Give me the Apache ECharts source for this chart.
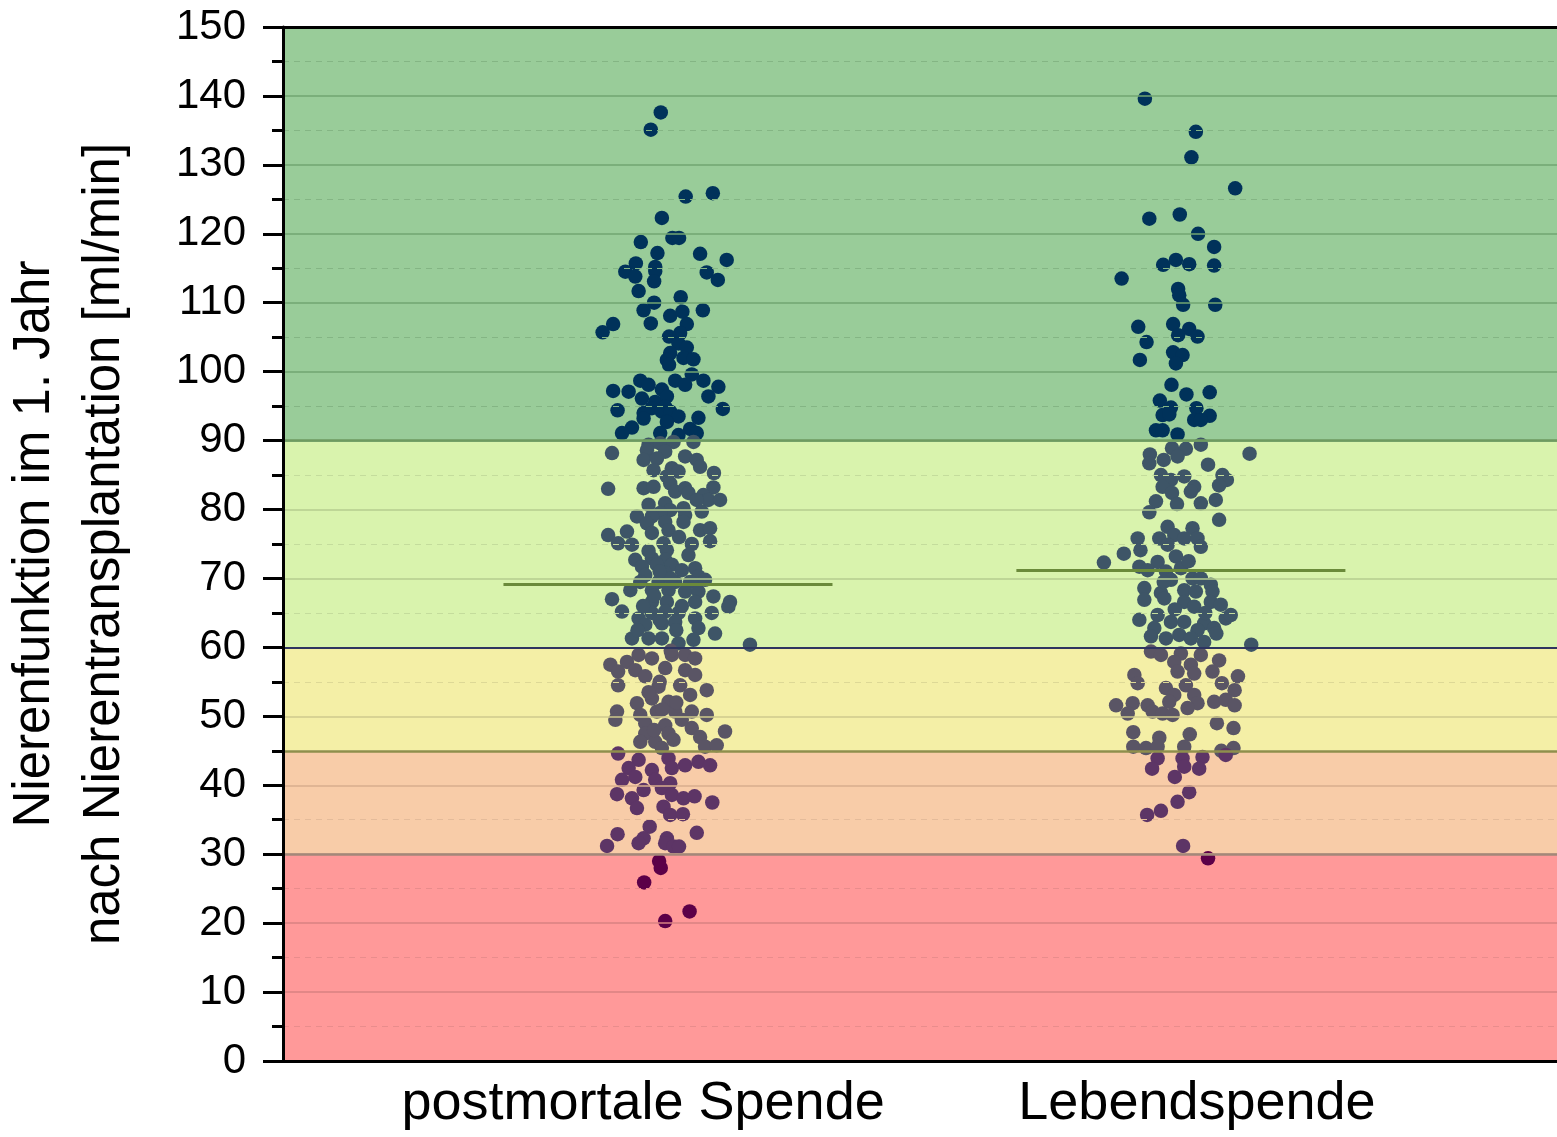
<!DOCTYPE html>
<html>
<head>
<meta charset="utf-8">
<script src="https://cdn.jsdelivr.net/npm/echarts@6/dist/echarts.min.js"></script>
<style>
  html, body { margin: 0; padding: 0; background: #ffffff; }
  #chart { width: 1557px; height: 1137px; }
</style>
</head>
<body>
<div id="chart"></div>
<script>
// Kidney function (eGFR, ml/min) one year after transplantation, by donor type.

const categories = ['postmortale Spende', 'Lebendspende'];
const categoryPositions = [1, 2];

// postmortal donation: horizontal jitter (% of category spacing) and value
const postmortalJitter = [
  3.2, 1.4, 7.7, 12.6, 3.4, 5.3, 6.5, -0.4, 2.6, 10.3, 15.1, -1.3, 2.2, -3.2, -1.4, 2.2, 2.0, 11.5, 13.5, -0.8,
  6.8, 2.0, 0.1, 4.9, 7.1, 10.8, 1.4, 7.9, -5.4, -7.3, 6.7, 4.7, 6.4, 7.9, 4.9, 4.3, 7.3, 9.1, 4.7, 8.8,
  -0.5, 1.0, 5.8, 7.6, 10.9, -5.4, -2.6, 3.4, 13.6, -0.2, 11.8, 2.2, 4.3, 1.6, 4.0, -4.6, 14.4, 0.1, 3.4, 4.9,
  6.4, 10.0, 0.1, 4.3, -2.0, -3.8, 3.1, 8.5, 9.7, 6.4,
  9.1, 1.0, 3.1, 5.5, -5.6, 0.7, 4.0, 7.6, 9.7, 0.1, 2.5, 10.3, 1.9, 5.2, 6.4, 12.8, 4.3, 4.9, -6.3, 0.1,
  1.9, 5.8, 7.6, 8.2, 12.7, 10.9, 11.8, 13.9, 9.7, 1.0, 4.0, 4.9, 7.3, 3.1, 10.6, -1.1, 1.6, 7.6, 0.7, 4.0,
  7.3, 4.6, -2.9, -6.3, 1.6, 10.3, 12.1, 12.1, -4.5, -2.0, 3.7, 8.8, 4.3, 8.2, -1.4, 1.6, 4.0, -0.2, 2.5, 5.2,
  9.4, 7.0, 0.4, 4.0, 10.0, 11.2, -0.5, 2.8, 5.8, 8.5, -2.3, 1.6, 4.6, 7.6, 10.0, 12.7, -5.6, 1.6, 4.3, 9.4,
  15.7, -3.8, -0.8, 1.6, 4.0, 6.4, 9.4, 12.4, 15.4, 0.4, 3.4, 5.8, 10.0, 13.0, -2.0, 1.0, 3.4, 9.1, 19.3, 6.4,
  2.0, 5.0, 3.0, 6.0, 1.0, 6.5, 0.0, 7.0, -1.0, 3.0,
  -5.9, -2.9, -0.8, 1.6, 5.2, 7.6, 9.4, -4.5, -1.4, 0.4, 4.0, 7.6, 9.4, -4.5, 2.8, 6.7, 11.5, 8.5, -1.1, 1.6,
  4.6, -4.7, -0.5, 2.5, 5.8, 8.8, 11.5, -5.0, 0.4, 4.0, 8.8, 14.8, 0.4, 4.6, 10.3, -0.5, 2.2, 5.5, 11.2, 13.3,
  3.4, 3.0, 6.0, 2.0, 7.0, 1.0, 5.0, 3.5,
  -4.5, -0.8, 4.6, 7.6, 10.0, 12.1, -2.6, 1.6, 5.2, -3.8, -1.4, 2.2, 4.9, -4.7, -2.0, 0.1, 3.4, 5.2, 7.3, 9.3,
  12.5, -1.1, 3.7, 4.9, 7.2, 1.2, -4.6, 9.7, 0.1, 4.3, -6.5, -0.8, 4.0, 5.5, 6.5,
  2.9, 3.2, 0.2, 8.4, 4.0
];
const postmortalValues = [
  137.6, 135.1, 125.4, 125.9, 122.3, 119.4, 119.4, 118.8, 117.2, 117.1, 116.2, 115.7, 115.2, 114.5, 113.8, 114.6, 113.1, 114.4, 113.3, 111.7,
  110.8, 110.0, 108.9, 108.1, 108.7, 108.9, 107.0, 106.9, 106.9, 105.7, 105.6, 105.1, 104.1, 103.5, 102.7, 101.7, 102.0, 101.8, 101.0, 99.6,
  98.7, 98.1, 98.7, 98.1, 98.7, 97.2, 97.1, 97.4, 97.8, 96.1, 96.4, 95.6, 96.4, 94.7, 94.9, 94.4, 94.6, 94.0, 94.2, 94.2,
  93.5, 93.3, 93.2, 92.7, 91.9, 91.1, 91.1, 91.7, 91.1, 90.8,
  89.8, 89.4, 89.6, 89.8, 88.2, 88.6, 88.4, 87.7, 87.2, 87.2, 87.4, 86.2, 85.7, 86.0, 85.5, 85.3, 84.8, 83.8, 83.0, 83.1,
  83.3, 82.6, 83.1, 82.4, 83.2, 82.1, 81.4, 81.4, 81.4, 80.7, 80.9, 79.9, 80.2, 79.5, 79.7, 79.0, 79.0, 79.2, 78.0, 78.2,
  78.2, 77.0, 76.8, 76.3, 76.6, 77.0, 77.3, 75.4, 75.1, 74.9, 75.1, 75.0, 74.1, 73.4, 72.7, 72.9, 72.7, 71.7, 72.0, 72.0,
  71.5, 71.2, 70.5, 70.8, 70.3, 69.8, 69.5, 69.5, 69.5, 69.5, 68.3, 68.3, 68.3, 68.1, 68.1, 67.4, 67.0, 66.6, 66.6, 66.6,
  66.6, 65.2, 64.2, 65.0, 65.2, 65.0, 64.2, 65.0, 65.9, 63.3, 63.5, 63.7, 62.8, 62.0, 61.3, 61.3, 61.3, 61.1, 60.4, 60.6,
  67.5, 70.0, 64.0, 62.5, 74.0, 76.0, 66.0, 66.0, 62.5, 71.0,
  57.5, 57.9, 58.9, 58.4, 58.9, 58.9, 58.4, 56.5, 56.7, 55.8, 57.0, 56.7, 56.0, 54.5, 54.3, 54.5, 53.8, 53.1, 51.9, 52.6,
  52.1, 50.7, 50.2, 50.7, 50.7, 50.7, 50.2, 49.5, 49.0, 48.7, 48.3, 47.8, 47.5, 47.5, 47.0, 46.3, 46.3, 46.6, 45.6, 45.8,
  45.4, 55.0, 52.0, 48.0, 49.5, 53.5, 59.5, 51.0,
  44.6, 43.7, 43.9, 42.9, 43.4, 42.9, 42.5, 42.2, 42.5, 40.8, 41.2, 40.8, 40.3, 38.7, 38.1, 39.3, 39.6, 38.6, 38.1, 38.4,
  37.5, 36.7, 36.9, 35.7, 35.8, 34.0, 32.9, 33.1, 32.3, 32.3, 31.2, 31.6, 31.6, 31.1, 31.1,
  29.0, 28.0, 25.9, 21.7, 20.3
];

// living donation: horizontal jitter (% of category spacing) and value
const lebendJitter = [
  -9.4, -0.2, -1.0, 6.9, -8.6, -3.1, 0.2, 3.1, -3.8, -6.1, -1.4, 3.1, -13.6, -3.4, -3.2, -2.5, 3.3, -10.6, -4.3, -1.4,
  -3.4, 0.1, -9.1, -4.3, -2.6, -3.8, -10.3, -4.6, -1.9, 2.3, -6.7, -4.7, -0.1, 2.3, -6.2, -5.0, -0.5, 0.7, -7.4, -6.2,
  -3.5,
  0.7, -4.5, -2.0, 9.5, -8.5, -3.5, -6.0, -8.6, 2.0, -6.5, -2.3, 4.6, 5.4, -4.7, -6.2, -0.5, 4.0, -4.5, -1.1, -7.4,
  3.4, -3.6, 0.7, -8.6, 4.0, -5.3, -0.8, -10.7, -6.8, -4.1, -2.3, 0.1, -5.3, 0.7, -13.2, -10.2, -16.8, -3.8, -7.1, -10.4,
  -8.9, -5.6, -2.9, -0.8, 0.7, -4.7, 2.5, -9.5, -6.5, -2.3, -0.2, 2.8, -9.5, -5.9, -2.3, -0.5, 2.5, 4.3, -10.4, -7.1,
  -4.7, -2.3, 1.3, 5.2, 6.1, -7.7, 0.1, 3.1, -8.3, -5.6, -3.2, -1.1, 1.3, 9.8, -4.0, -1.5, 1.5, -6.0, 3.5,
  -8.3, -6.5, -2.9, 0.7, -4.1, -1.1, 4.0, -3.5, -0.5, 2.8, -11.3, 7.4, -10.7, 4.5, -5.6, -2.0, 6.8, -4.1, -0.5, -14.6,
  -11.6, -8.9, -5.0, 0.1, 3.1, 5.2, 6.8, -12.5, -8.0, -6.2, -4.4, -1.7, 3.6, 6.6, -11.5, -6.8, -1.3, -11.5, -9.2, -2.3,
  4.4, 6.6, -7.1,
  -7.1, -2.6, 1.0, 5.2, -8.1, -2.3, 0.4, -4.0, -1.4, -3.5, -6.5, -9.0, -2.5,
  2.0
];
const lebendValues = [
  139.6, 134.8, 131.1, 126.6, 122.2, 122.8, 120.0, 118.1, 116.2, 115.5, 115.6, 115.4, 113.5, 112.0, 111.1, 109.7, 109.7, 106.5, 106.9, 106.2,
  105.3, 105.1, 104.3, 102.8, 102.4, 101.2, 101.7, 98.1, 96.7, 97.0, 95.8, 94.8, 94.7, 93.6, 93.7, 93.8, 93.0, 93.0, 91.5, 91.5,
  90.9,
  89.4, 88.9, 88.8, 88.1, 88.0, 87.7, 87.2, 86.7, 86.5, 85.0, 84.8, 85.0, 84.3, 84.3, 83.3, 83.3, 83.5, 82.4, 82.6, 81.2,
  81.4, 80.8, 80.9, 79.6, 78.5, 77.5, 77.3, 75.8, 75.8, 76.3, 75.8, 75.8, 74.9, 74.6, 73.6, 74.1, 72.3, 73.2, 72.4, 71.7,
  71.2, 71.0, 71.5, 70.0, 70.0, 69.8, 69.1, 68.6, 67.9, 68.3, 68.1, 68.1, 66.9, 67.1, 66.6, 65.9, 66.6, 66.2, 64.0, 64.7,
  63.7, 63.7, 63.5, 64.2, 64.7, 62.8, 62.5, 62.8, 61.6, 61.3, 61.8, 61.3, 60.8, 60.4, 65.5, 72.5, 65.0, 69.5, 62.0,
  59.4, 58.9, 59.1, 58.9, 57.9, 57.5, 58.1, 56.5, 56.2, 56.5, 56.0, 55.8, 54.8, 54.8, 54.1, 54.5, 53.8, 53.1, 53.1, 51.6,
  51.9, 51.6, 52.1, 51.9, 52.1, 52.4, 51.6, 50.4, 50.7, 50.4, 50.2, 51.2, 49.0, 48.3, 47.7, 46.9, 47.4, 45.6, 45.4, 45.6,
  45.0, 45.4, 45.6,
  43.9, 43.9, 44.1, 44.4, 42.4, 42.7, 42.4, 41.2, 39.0, 37.6, 36.3, 35.7, 31.2,
  29.4
];

// group means (horizontal lines)
const groupMeans = [69.1, 71.2];
const meanLineCenters = [1.045, 1.971];

// kidney-function stages shown as coloured bands
const bandLimits = [0, 30, 45, 60, 90, 150];
const bandFill = ['#ff9999', '#f8cca8', '#f4efa6', '#d9f3ad', '#99cc99'];
const bandGridSolid = ['#d98282', '#d8ae8e', '#cfca8c', '#b5cc8f', '#72a672'];
const bandGridDash = ['#e98c8c', '#e4bb9a', '#ddd896', '#c4dc9c', '#84b584'];
const bandDotColor = ['#5c0048', '#5d3566', '#5a5565', '#3e5567', '#00325a'];
const boundaryColor = { 30: '#a3887a', 45: '#8f8f4c', 60: '#2e3560', 90: '#6e9a60' };

const yTicks = { min: 0, max: 150, step: 10 };

const FONT = '"Liberation Sans", Arial, Helvetica, sans-serif';

function bandIndex(v) {
  for (let i = 0; i < bandFill.length; i++) {
    if (v < bandLimits[i + 1]) return i;
  }
  return bandFill.length - 1;
}

// grid lines every 5 (solid on tens, dashed on fives), tinted by band
const gridLines = [];
for (let v = 5; v < yTicks.max; v += 5) {
  const b = bandIndex(v);
  const solid = v % 10 === 0;
  gridLines.push({
    yAxis: v,
    lineStyle: {
      color: solid ? bandGridSolid[b] : bandGridDash[b],
      type: solid ? 'solid' : [6, 5],
      width: solid ? 1.5 : 1.2
    }
  });
}

const bands = bandFill.map((c, i) => [
  { yAxis: bandLimits[i], itemStyle: { color: c, opacity: 1 } },
  { yAxis: bandLimits[i + 1] }
]);

const boundaries = [30, 45, 60, 90].map(v => ({
  yAxis: v,
  lineStyle: { color: boundaryColor[v], width: v === 60 ? 2.2 : 2.5, type: 'solid' }
}));

const MEAN_HALF_WIDTH = 0.297;
const meanLines = groupMeans.map((m, i) => [
  { coord: [meanLineCenters[i] - MEAN_HALF_WIDTH, m] },
  { coord: [meanLineCenters[i] + MEAN_HALF_WIDTH, m] }
]);

function points(jitter, values, center) {
  return values.map((v, i) => [center + jitter[i] / 100, v]);
}

const chart = echarts.init(document.getElementById('chart'), null, { renderer: 'canvas' });

chart.setOption({
  animation: false,
  backgroundColor: '#ffffff',
  textStyle: { fontFamily: FONT },
  grid: { left: 283, right: 0, top: 27, bottom: 76, containLabel: false, outerBoundsMode: 'none' },
  xAxis: [
    {
      type: 'value',
      min: 0.35,
      max: 2.65,
      position: 'bottom',
      z: 10,
      axisLine: { show: true, lineStyle: { color: '#000', width: 3 } },
      axisTick: { show: false },
      splitLine: { show: false },
      axisLabel: {
        customValues: categoryPositions,
        formatter: v => categories[categoryPositions.indexOf(Math.round(v))] || '',
        color: '#000',
        fontSize: 54,
        fontFamily: FONT,
        margin: 16
      }
    },
    {
      type: 'value',
      min: 0.35,
      max: 2.65,
      position: 'top',
      z: 10,
      axisLine: { show: true, lineStyle: { color: '#000', width: 3 } },
      axisTick: { show: false },
      axisLabel: { show: false },
      splitLine: { show: false }
    }
  ],
  yAxis: {
    type: 'value',
    min: yTicks.min,
    max: yTicks.max,
    interval: yTicks.step,
    z: 10,
    name: 'Nierenfunktion im 1. Jahr\nnach Nierentransplantation [ml/min]',
    nameLocation: 'middle',
    nameRotate: 90,
    nameGap: 143,
    nameTextStyle: { fontSize: 51, lineHeight: 70, color: '#000', fontFamily: FONT },
    axisLine: { show: true, lineStyle: { color: '#000', width: 3 } },
    axisTick: { show: true, inside: false, length: 20, lineStyle: { color: '#000', width: 3 } },
    minorTick: { show: true, splitNumber: 2, length: 11, lineStyle: { color: '#000', width: 3 } },
    splitLine: { show: false },
    axisLabel: { color: '#000', fontSize: 42, fontFamily: FONT, margin: 37 }
  },
  visualMap: {
    type: 'piecewise',
    show: false,
    dimension: 1,
    seriesIndex: [1, 2],
    pieces: bandDotColor.map((c, i) => ({
      gte: bandLimits[i],
      lt: i === bandDotColor.length - 1 ? 1000 : bandLimits[i + 1],
      color: c
    }))
  },
  series: [
    {
      name: 'bands',
      type: 'scatter',
      data: [],
      silent: true,
      z: 1,
      markArea: { silent: true, data: bands },
      markLine: {
        silent: true,
        symbol: 'none',
        label: { show: false },
        data: gridLines
      }
    },
    {
      name: categories[0],
      type: 'scatter',
      symbol: 'circle',
      symbolSize: 14.5,
      itemStyle: { opacity: 1 },
      z: 3,
      data: points(postmortalJitter, postmortalValues, categoryPositions[0])
    },
    {
      name: categories[1],
      type: 'scatter',
      symbol: 'circle',
      symbolSize: 14.5,
      itemStyle: { opacity: 1 },
      z: 3,
      data: points(lebendJitter, lebendValues, categoryPositions[1])
    },
    {
      name: 'overlay',
      type: 'scatter',
      data: [],
      silent: true,
      z: 5,
      markLine: {
        silent: true,
        symbol: 'none',
        label: { show: false },
        data: boundaries.concat(meanLines.map(p => [
          Object.assign({ lineStyle: { color: '#6b8a3a', width: 3, type: 'solid' } }, p[0]),
          p[1]
        ]))
      }
    }
  ]
});
</script>
</body>
</html>
